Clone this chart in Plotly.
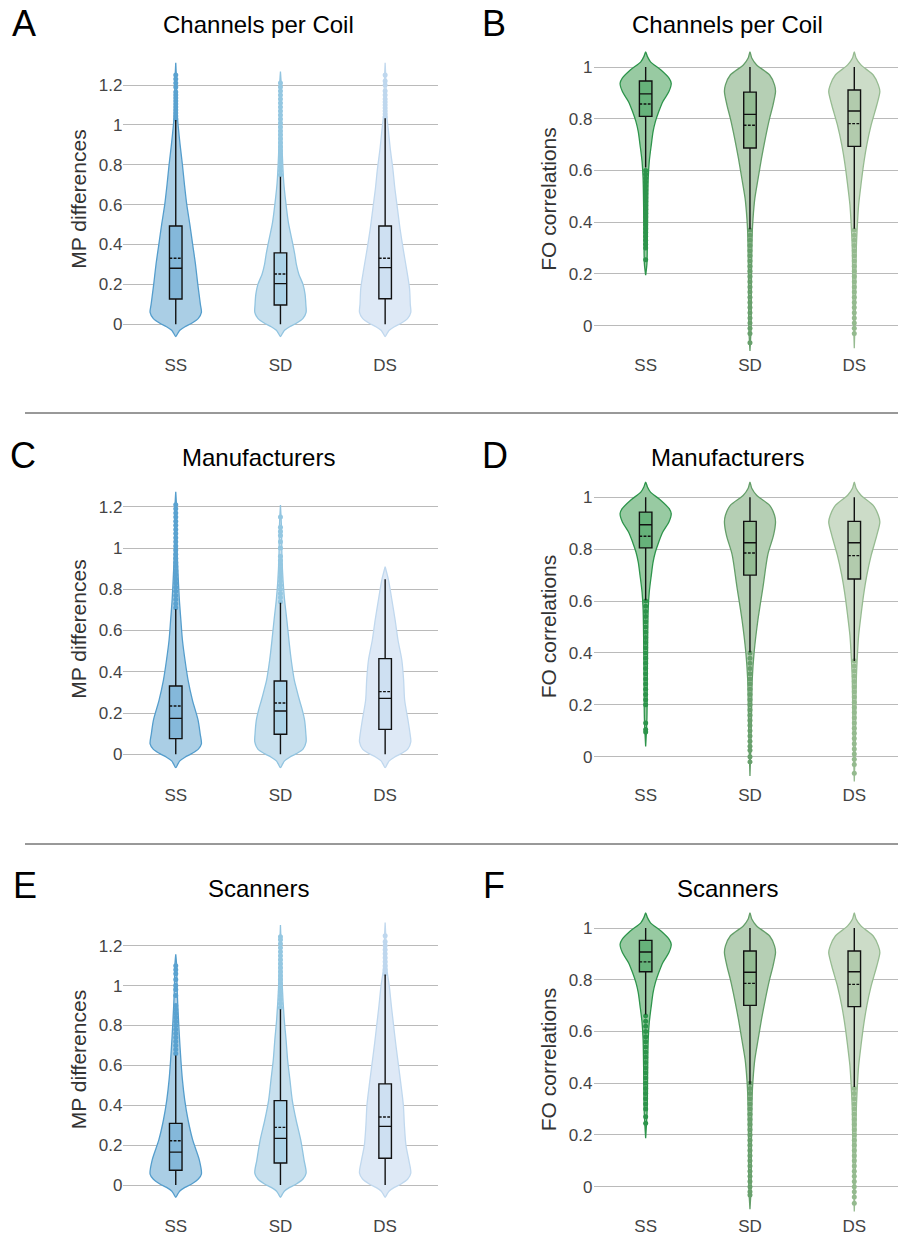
import plotly.graph_objects as go

W, H = 898, 1236
categories = ["SS", "SD", "DS"]
mp_ticks = [0, 0.2, 0.4, 0.6, 0.8, 1.0, 1.2]
fo_ticks = [0, 0.2, 0.4, 0.6, 0.8, 1.0]
panel_letters = ["A", "B", "C", "D", "E", "F"]
panel_titles = ["Channels per Coil", "Channels per Coil", "Manufacturers",
                "Manufacturers", "Scanners", "Scanners"]
y_titles = ["MP differences", "FO correlations", "MP differences",
            "FO correlations", "MP differences", "FO correlations"]

# ---- violin density profiles (value, relative density) ----
A_SS_v = [-0.062, -0.045, -0.03, -0.012, 0.005, 0.03, 0.06, 0.1, 0.15, 0.2, 0.3, 0.4, 0.5, 0.6, 0.7, 0.8, 0.9, 1.0, 1.05, 1.1, 1.2, 1.312]
A_SS_d = [0, 0.08, 0.16, 0.36, 0.62, 0.88, 1.0, 0.96, 0.91, 0.86, 0.77, 0.66, 0.55, 0.43, 0.34, 0.26, 0.17, 0.09, 0.06, 0.045, 0.035, 0]
A_SD_v = [-0.062, -0.045, -0.03, -0.012, 0.005, 0.03, 0.06, 0.1, 0.15, 0.2, 0.25, 0.3, 0.35, 0.41, 0.51, 0.61, 0.71, 0.8, 0.9, 1.0, 1.1, 1.2, 1.267]
A_SD_d = [0, 0.08, 0.16, 0.36, 0.62, 0.88, 1.0, 0.99, 0.96, 0.88, 0.72, 0.62, 0.56, 0.47, 0.31, 0.21, 0.13, 0.09, 0.06, 0.045, 0.035, 0.03, 0]
A_DS_v = [-0.062, -0.045, -0.03, -0.012, 0.005, 0.03, 0.06, 0.1, 0.18, 0.28, 0.38, 0.48, 0.58, 0.68, 0.78, 0.88, 0.98, 1.05, 1.1, 1.2, 1.312]
A_DS_d = [0, 0.08, 0.16, 0.36, 0.62, 0.88, 1.0, 0.98, 0.95, 0.83, 0.7, 0.58, 0.48, 0.38, 0.3, 0.2, 0.12, 0.06, 0.045, 0.035, 0]

B_SS_v = [1.058, 1.04, 1.02, 0.988, 0.956, 0.937, 0.905, 0.866, 0.827, 0.789, 0.75, 0.699, 0.634, 0.57, 0.44, 0.31, 0.24, 0.195]
B_SS_d = [0, 0.07, 0.19, 0.6, 0.92, 1.0, 0.91, 0.67, 0.51, 0.38, 0.29, 0.22, 0.14, 0.1, 0.077, 0.065, 0.05, 0]
B_SD_v = [1.058, 1.035, 1.008, 0.969, 0.931, 0.905, 0.853, 0.802, 0.724, 0.647, 0.57, 0.492, 0.415, 0.363, 0.2, 0.0, -0.098]
B_SD_d = [0, 0.07, 0.26, 0.77, 0.96, 1.0, 0.9, 0.77, 0.6, 0.45, 0.32, 0.19, 0.12, 0.09, 0.06, 0.045, 0]
B_DS_v = [1.058, 1.035, 1.008, 0.969, 0.931, 0.905, 0.853, 0.776, 0.699, 0.621, 0.544, 0.467, 0.389, 0.3, 0.1, -0.087]
B_DS_d = [0, 0.07, 0.26, 0.74, 0.94, 1.0, 0.88, 0.66, 0.49, 0.36, 0.26, 0.17, 0.12, 0.08, 0.05, 0]

C_SS_v = [-0.065, -0.048, -0.032, -0.014, 0.003, 0.025, 0.05, 0.1, 0.166, 0.263, 0.36, 0.457, 0.554, 0.65, 0.75, 0.9, 1.0, 1.1, 1.2, 1.273]
C_SS_d = [0, 0.08, 0.16, 0.36, 0.62, 0.88, 1.0, 0.95, 0.87, 0.65, 0.48, 0.36, 0.26, 0.2, 0.14, 0.08, 0.05, 0.04, 0.03, 0]
C_SD_v = [-0.065, -0.048, -0.032, -0.014, 0.003, 0.025, 0.06, 0.1, 0.166, 0.22, 0.263, 0.31, 0.36, 0.457, 0.554, 0.65, 0.75, 0.845, 0.95, 1.1, 1.208]
C_SD_d = [0, 0.08, 0.16, 0.36, 0.62, 0.88, 1.0, 0.99, 0.94, 0.84, 0.74, 0.64, 0.54, 0.42, 0.33, 0.25, 0.16, 0.1, 0.06, 0.04, 0]
C_DS_v = [-0.065, -0.048, -0.032, -0.014, 0.003, 0.025, 0.06, 0.1, 0.166, 0.263, 0.36, 0.457, 0.554, 0.65, 0.75, 0.845, 0.909]
C_DS_d = [0, 0.08, 0.16, 0.36, 0.62, 0.88, 1.0, 0.97, 0.89, 0.76, 0.72, 0.65, 0.5, 0.39, 0.26, 0.13, 0]

D_SS_v = [1.058, 1.04, 1.02, 0.988, 0.956, 0.937, 0.905, 0.866, 0.827, 0.789, 0.75, 0.699, 0.634, 0.57, 0.44, 0.31, 0.15, 0.039]
D_SS_d = [0, 0.07, 0.19, 0.6, 0.92, 1.0, 0.91, 0.67, 0.51, 0.38, 0.29, 0.22, 0.14, 0.1, 0.077, 0.065, 0.05, 0]
D_SD_v = [1.058, 1.035, 1.008, 0.969, 0.931, 0.905, 0.853, 0.78, 0.655, 0.527, 0.4, 0.3, 0.1, -0.074]
D_SD_d = [0, 0.07, 0.26, 0.77, 0.96, 1.0, 0.92, 0.7, 0.51, 0.31, 0.16, 0.09, 0.05, 0]
D_DS_v = [1.058, 1.035, 1.008, 0.969, 0.931, 0.905, 0.853, 0.776, 0.699, 0.621, 0.544, 0.467, 0.389, 0.3, 0.1, -0.096]
D_DS_d = [0, 0.07, 0.26, 0.74, 0.94, 1.0, 0.88, 0.66, 0.49, 0.36, 0.26, 0.17, 0.12, 0.08, 0.05, 0]

E_SS_v = [-0.062, -0.045, -0.03, -0.012, 0.005, 0.03, 0.055, 0.125, 0.226, 0.326, 0.426, 0.527, 0.627, 0.75, 0.9, 1.0, 1.1, 1.157]
E_SS_d = [0, 0.08, 0.16, 0.36, 0.62, 0.88, 1.0, 0.92, 0.66, 0.48, 0.35, 0.26, 0.2, 0.14, 0.08, 0.05, 0.035, 0]
E_SD_v = [-0.062, -0.045, -0.03, -0.012, 0.005, 0.03, 0.06, 0.125, 0.226, 0.326, 0.426, 0.527, 0.627, 0.727, 0.827, 1.0, 1.15, 1.304]
E_SD_d = [0, 0.08, 0.16, 0.36, 0.62, 0.88, 1.0, 0.92, 0.79, 0.61, 0.46, 0.37, 0.28, 0.22, 0.15, 0.07, 0.04, 0]
E_DS_v = [-0.062, -0.045, -0.03, -0.012, 0.005, 0.03, 0.06, 0.12, 0.2, 0.3, 0.4, 0.5, 0.6, 0.7, 0.8, 0.9, 1.0, 1.08, 1.2, 1.316]
E_DS_d = [0, 0.08, 0.16, 0.36, 0.62, 0.88, 1.0, 0.93, 0.81, 0.75, 0.71, 0.62, 0.52, 0.42, 0.33, 0.24, 0.16, 0.07, 0.04, 0]

F_SS_v = [1.058, 1.04, 1.02, 0.988, 0.956, 0.937, 0.905, 0.866, 0.827, 0.789, 0.75, 0.699, 0.634, 0.57, 0.44, 0.3, 0.187]
F_SS_d = [0, 0.07, 0.19, 0.6, 0.92, 1.0, 0.91, 0.67, 0.51, 0.38, 0.29, 0.22, 0.14, 0.1, 0.077, 0.06, 0]
F_SD_v = [1.058, 1.035, 1.008, 0.969, 0.931, 0.905, 0.853, 0.802, 0.724, 0.647, 0.57, 0.492, 0.415, 0.363, 0.2, 0.0, -0.087]
F_SD_d = [0, 0.07, 0.26, 0.77, 0.96, 1.0, 0.9, 0.77, 0.6, 0.45, 0.32, 0.19, 0.12, 0.09, 0.06, 0.045, 0]
F_DS_v = [1.058, 1.035, 1.008, 0.969, 0.931, 0.905, 0.853, 0.776, 0.699, 0.621, 0.544, 0.467, 0.389, 0.3, 0.1, -0.096]
F_DS_d = [0, 0.07, 0.26, 0.74, 0.94, 1.0, 0.88, 0.66, 0.49, 0.36, 0.26, 0.17, 0.12, 0.08, 0.05, 0]

# ---- box statistics, order SS, SD, DS ----
A_q1 = [0.127, 0.097, 0.128]; A_med = [0.281, 0.204, 0.284]; A_q3 = [0.493, 0.358, 0.493]
A_mean = [0.331, 0.252, 0.331]; A_lo = [0, 0, 0]; A_hi = [1.025, 0.74, 1.033]
B_q1 = [0.809, 0.687, 0.693]; B_med = [0.896, 0.817, 0.83]; B_q3 = [0.946, 0.903, 0.911]
B_mean = [0.857, 0.775, 0.781]; B_lo = [0.612, 0.373, 0.375]; B_hi = [1.0, 1.0, 1.0]
C_q1 = [0.076, 0.097, 0.121]; C_med = [0.174, 0.21, 0.271]; C_q3 = [0.331, 0.355, 0.464]
C_mean = [0.234, 0.249, 0.304]; C_lo = [0, 0, 0]; C_hi = [0.703, 0.735, 0.848]
D_q1 = [0.805, 0.7, 0.685]; D_med = [0.894, 0.825, 0.825]; D_q3 = [0.943, 0.907, 0.907]
D_mean = [0.85, 0.785, 0.775]; D_lo = [0.603, 0.402, 0.369]; D_hi = [1.0, 1.0, 1.0]
E_q1 = [0.074, 0.11, 0.134]; E_med = [0.165, 0.234, 0.294]; E_q3 = [0.309, 0.423, 0.507]
E_mean = [0.222, 0.289, 0.341]; E_lo = [0, 0, 0]; E_hi = [0.65, 0.881, 1.056]
F_q1 = [0.831, 0.701, 0.696]; F_med = [0.907, 0.829, 0.831]; F_q3 = [0.952, 0.911, 0.911]
F_mean = [0.869, 0.786, 0.782]; F_lo = [0.666, 0.396, 0.385]; F_hi = [1.0, 1.0, 1.0]

# ---- outliers ----
A_SS_out = [1.03, 1.045, 1.06, 1.075, 1.09, 1.105, 1.12, 1.135, 1.15, 1.165, 1.19, 1.21, 1.23, 1.25]
A_SD_out = [0.75, 0.77, 0.79, 0.81, 0.83, 0.85, 0.87, 0.89, 0.91, 0.93, 0.95, 0.97, 0.99, 1.01, 1.03, 1.05, 1.07, 1.09, 1.11, 1.13, 1.15, 1.17, 1.19, 1.21]
A_DS_out = [1.04, 1.055, 1.07, 1.085, 1.1, 1.115, 1.13, 1.15, 1.17, 1.2, 1.22, 1.25]
B_SS_out = [0.6, 0.585, 0.57, 0.555, 0.54, 0.525, 0.51, 0.495, 0.48, 0.465, 0.45, 0.435, 0.42, 0.405, 0.39, 0.375, 0.36, 0.345, 0.33, 0.315, 0.3, 0.255]
B_SD_out = [0.37, 0.35, 0.33, 0.31, 0.29, 0.27, 0.25, 0.23, 0.21, 0.19, 0.17, 0.15, 0.13, 0.11, 0.09, 0.07, 0.05, 0.03, 0.01, -0.01, -0.03, -0.066]
B_DS_out = [0.37, 0.35, 0.33, 0.31, 0.29, 0.27, 0.25, 0.23, 0.21, 0.19, 0.17, 0.15, 0.13, 0.11, 0.09, 0.07, 0.05, 0.03, 0.01, -0.01, -0.03]
C_SS_out = [0.71, 0.73, 0.75, 0.77, 0.79, 0.81, 0.83, 0.85, 0.87, 0.89, 0.91, 0.93, 0.95, 0.97, 0.99, 1.01, 1.03, 1.05, 1.07, 1.09, 1.11, 1.13, 1.15, 1.17, 1.19, 1.21]
C_SD_out = [0.74, 0.76, 0.78, 0.8, 0.82, 0.84, 0.86, 0.88, 0.9, 0.92, 0.94, 0.96, 1.0, 1.03, 1.06, 1.08, 1.1, 1.15]
C_DS_out = []
D_SS_out = [0.6, 0.58, 0.56, 0.54, 0.52, 0.5, 0.48, 0.46, 0.44, 0.42, 0.4, 0.38, 0.36, 0.34, 0.32, 0.3, 0.28, 0.26, 0.24, 0.22, 0.2, 0.13, 0.105, 0.095]
D_SD_out = [0.4, 0.38, 0.36, 0.34, 0.32, 0.3, 0.28, 0.26, 0.24, 0.22, 0.2, 0.18, 0.16, 0.14, 0.12, 0.1, 0.08, 0.06, 0.04, 0.025, 0.0, -0.02]
D_DS_out = [0.37, 0.35, 0.33, 0.31, 0.29, 0.27, 0.25, 0.23, 0.21, 0.19, 0.17, 0.15, 0.13, 0.11, 0.09, 0.07, 0.05, 0.03, 0.01, -0.01, -0.03, -0.064]
E_SS_out = [0.66, 0.68, 0.7, 0.72, 0.74, 0.76, 0.78, 0.8, 0.82, 0.84, 0.86, 0.88, 0.9, 0.95, 0.98, 1.0, 1.03, 1.06, 1.08, 1.1]
E_SD_out = [0.89, 0.91, 0.93, 0.95, 0.97, 0.99, 1.01, 1.03, 1.05, 1.07, 1.09, 1.11, 1.13, 1.15, 1.17, 1.19, 1.21, 1.23, 1.245]
E_DS_out = [1.06, 1.08, 1.1, 1.12, 1.14, 1.16, 1.18, 1.2, 1.22, 1.25]
F_SS_out = [0.66, 0.64, 0.62, 0.6, 0.58, 0.56, 0.54, 0.52, 0.5, 0.48, 0.46, 0.44, 0.42, 0.4, 0.38, 0.36, 0.34, 0.32, 0.3, 0.27, 0.245]
F_SD_out = [0.4, 0.38, 0.36, 0.34, 0.32, 0.3, 0.28, 0.26, 0.24, 0.22, 0.2, 0.18, 0.16, 0.14, 0.12, 0.1, 0.08, 0.06, 0.04, 0.02, 0.0, -0.02, -0.032]
F_DS_out = [0.38, 0.36, 0.34, 0.32, 0.3, 0.28, 0.26, 0.24, 0.22, 0.2, 0.18, 0.16, 0.14, 0.12, 0.1, 0.08, 0.06, 0.04, 0.02, 0.0, -0.02, -0.04, -0.064]

# ---- styling ----
blue_fill = ["rgb(170,206,229)", "rgb(200,224,238)", "rgb(222,233,246)"]
blue_line = ["rgb(84,157,204)", "rgb(145,196,224)", "rgb(192,216,238)"]
blue_box = ["rgb(132,184,218)", "rgb(172,211,232)", "rgb(206,224,242)"]
blue_pts = ["rgb(90,162,208)", "rgb(148,199,225)", "rgb(190,215,238)"]
green_fill = ["rgb(152,202,162)", "rgb(181,207,180)", "rgb(204,220,200)"]
green_line = ["rgb(45,148,75)", "rgb(100,158,105)", "rgb(150,187,145)"]
green_box = ["rgb(102,178,122)", "rgb(147,188,147)", "rgb(178,203,173)"]
green_pts = ["rgb(45,148,75)", "rgb(104,160,108)", "rgb(148,186,142)"]

profiles = {
    "A": [(A_SS_v, A_SS_d), (A_SD_v, A_SD_d), (A_DS_v, A_DS_d)],
    "B": [(B_SS_v, B_SS_d), (B_SD_v, B_SD_d), (B_DS_v, B_DS_d)],
    "C": [(C_SS_v, C_SS_d), (C_SD_v, C_SD_d), (C_DS_v, C_DS_d)],
    "D": [(D_SS_v, D_SS_d), (D_SD_v, D_SD_d), (D_DS_v, D_DS_d)],
    "E": [(E_SS_v, E_SS_d), (E_SD_v, E_SD_d), (E_DS_v, E_DS_d)],
    "F": [(F_SS_v, F_SS_d), (F_SD_v, F_SD_d), (F_DS_v, F_DS_d)],
}
boxes = {
    "A": (A_q1, A_med, A_q3, A_mean, A_lo, A_hi),
    "B": (B_q1, B_med, B_q3, B_mean, B_lo, B_hi),
    "C": (C_q1, C_med, C_q3, C_mean, C_lo, C_hi),
    "D": (D_q1, D_med, D_q3, D_mean, D_lo, D_hi),
    "E": (E_q1, E_med, E_q3, E_mean, E_lo, E_hi),
    "F": (F_q1, F_med, F_q3, F_mean, F_lo, F_hi),
}
outliers = {
    "A": [A_SS_out, A_SD_out, A_DS_out],
    "B": [B_SS_out, B_SD_out, B_DS_out],
    "C": [C_SS_out, C_SD_out, C_DS_out],
    "D": [D_SS_out, D_SD_out, D_DS_out],
    "E": [E_SS_out, E_SD_out, E_DS_out],
    "F": [F_SS_out, F_SD_out, F_DS_out],
}

# layout geometry in pixels: (zero_px, px_per_unit, top_px, bottom_px)
geom = {
    "A": (324.3, 199.4, 45, 353),
    "B": (325.7, 258.7, 45, 353),
    "C": (754.3, 206.3, 475, 783),
    "D": (756.7, 259.4, 470, 783),
    "E": (1185.0, 199.4, 905, 1214),
    "F": (1186.7, 258.7, 905, 1214),
}
left_x = (123.4, 437.5, [-0.5, 2.5])
right_x = (593.5, 898.0, [-0.5, 2.419])
letter_pos = {"A": (10, 23.5), "B": (480, 23.5), "C": (8, 455), "D": (480, 455), "E": (11, 885), "F": (481, 885)}
title_pos = {"A": (258, 24.7), "B": (727.7, 24.7), "C": (258.3, 457.5), "D": (727.7, 457.5), "E": (258.3, 888.7), "F": (727.7, 888.7)}

FONT = "Liberation Sans, Arial, Helvetica, sans-serif"
MAXW = 0.245
BOXW = 0.12

fig = go.Figure()
layout = dict(width=W, height=H, margin=dict(l=0, r=0, t=0, b=0),
              paper_bgcolor="white", plot_bgcolor="white", showlegend=False,
              boxmode="overlay", font=dict(family=FONT, color="#444"))
annotations = []

for i, p in enumerate(panel_letters):
    n = i + 1
    xa = "x" if n == 1 else f"x{n}"
    ya = "y" if n == 1 else f"y{n}"
    is_mp = (i % 2 == 0)
    fills = blue_fill if is_mp else green_fill
    lines = blue_line if is_mp else green_line
    bfill = blue_box if is_mp else green_box
    pts = blue_pts if is_mp else green_pts

    for k in range(3):
        v, d = profiles[p][k]
        xs = [k - MAXW * dd for dd in d] + [k + MAXW * dd for dd in reversed(d)]
        ys = list(v) + list(reversed(v))
        fig.add_trace(go.Scatter(x=xs, y=ys, xaxis=xa, yaxis=ya, mode="lines",
                                 fill="toself", fillcolor=fills[k], zorder=0,
                                 line=dict(color=lines[k], width=1.3, shape="spline", smoothing=0.8),
                                 hoverinfo="skip"))
    for k in range(3):
        if outliers[p][k]:
            fig.add_trace(go.Scatter(x=[k] * len(outliers[p][k]), y=outliers[p][k],
                                     xaxis=xa, yaxis=ya, mode="markers", zorder=1,
                                     marker=dict(color=pts[k], size=5),
                                     hoverinfo="skip"))
    q1, med, q3, mean, lo, hi = boxes[p]
    for k in range(3):
        fig.add_trace(go.Box(x=[k], q1=[q1[k]], median=[med[k]], q3=[q3[k]],
                             mean=[mean[k]], lowerfence=[lo[k]], upperfence=[hi[k]],
                             orientation="v", zorder=2,
                             boxmean=True, boxpoints=False, width=BOXW, whiskerwidth=0,
                             fillcolor=bfill[k], line=dict(color="#111", width=1.4),
                             xaxis=xa, yaxis=ya, hoverinfo="skip"))

    zero, ppu, top, bot = geom[p]
    xl, xr, xrange = left_x if is_mp else right_x
    layout["xaxis" if n == 1 else f"xaxis{n}"] = dict(
        domain=[xl / W, xr / W], range=xrange, anchor=ya,
        tickvals=[0, 1, 2], ticktext=categories, showgrid=False, zeroline=False,
        showline=False, ticks="", tickfont=dict(size=17, color="#444"))
    layout["yaxis" if n == 1 else f"yaxis{n}"] = dict(
        domain=[1 - bot / H, 1 - top / H],
        range=[(zero - bot) / ppu, (zero - top) / ppu], anchor=xa,
        tickvals=mp_ticks if is_mp else fo_ticks, showgrid=True,
        gridcolor="rgb(186,186,186)", gridwidth=1, zeroline=False, showline=False,
        ticks="", tickfont=dict(size=17, color="#444"),
        title=dict(text=y_titles[i], font=dict(size=21, color="#333"), standoff=6))

    lx, ly = letter_pos[p]
    annotations.append(dict(text=p, x=lx / W, y=1 - ly / H, xref="paper", yref="paper",
                            xanchor="left", yanchor="middle", showarrow=False,
                            font=dict(size=36, color="black", family=FONT)))
    tx, ty = title_pos[p]
    annotations.append(dict(text=panel_titles[i], x=tx / W, y=1 - ty / H, xref="paper", yref="paper",
                            xanchor="center", yanchor="middle", showarrow=False,
                            font=dict(size=24, color="black", family=FONT)))

layout["annotations"] = annotations
layout["shapes"] = [
    dict(type="line", xref="paper", yref="paper", x0=25 / W, x1=1, y0=1 - 413 / H, y1=1 - 413 / H,
         line=dict(color="#333", width=1)),
    dict(type="line", xref="paper", yref="paper", x0=25 / W, x1=1, y0=1 - 844 / H, y1=1 - 844 / H,
         line=dict(color="#333", width=1)),
]
fig.update_layout(**layout)
fig.write_html("out.html", config={"displayModeBar": False},
               post_script="document.body.style.margin='0';document.body.style.overflow='hidden';")
